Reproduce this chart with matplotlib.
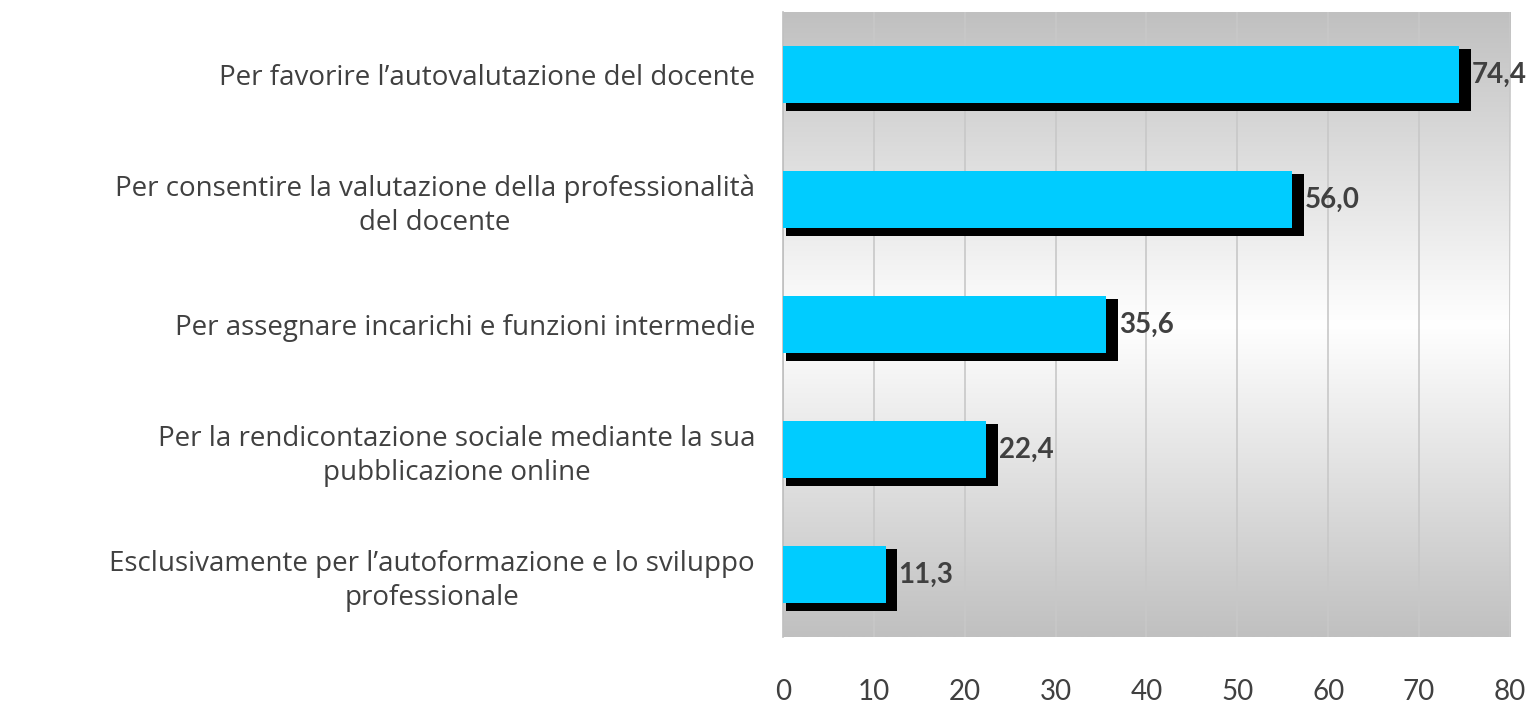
import numpy as np
import matplotlib.pyplot as plt
from matplotlib.colors import LinearSegmentedColormap

categories = [
    "Per favorire l\u2019autovalutazione del docente",
    "Per consentire la valutazione della professionalità\ndel docente",
    "Per assegnare incarichi e funzioni intermedie",
    "Per la rendicontazione sociale mediante la sua\npubblicazione online",
    "Esclusivamente per l\u2019autoformazione e lo sviluppo\nprofessionale",
]
values = [74.4, 56.0, 35.6, 22.4, 11.3]
x_ticks = [0, 10, 20, 30, 40, 50, 60, 70, 80]

text_color = "#404040"
plt.rcParams["font.family"] = ["Open Sans", "DejaVu Sans"]

fig = plt.figure(figsize=(15.32, 7.03), dpi=100)
ax = fig.add_axes([0.511, 0.094, 0.4746, 0.889])

# grey-white-grey background gradient
bg = LinearSegmentedColormap.from_list("bg", ["#c0c0c0", "#ffffff", "#c0c0c0"])
grad = np.linspace(0, 1, 256).reshape(-1, 1)
ax.imshow(grad, cmap=bg, aspect="auto", extent=[0, 1, 0, 1],
          transform=ax.transAxes, zorder=0)

y = np.arange(len(categories))
h = 0.46
# drop shadow behind each bar
ax.barh(y + 0.045, np.array(values) + 0.9, height=h + 0.04, left=0.4,
        color="black", zorder=2)
ax.barh(y, values, height=h, color="#00ccff", zorder=3)

for yi, v in zip(y, values):
    ax.annotate(f"{v:.1f}".replace(".", ","), (v, yi), xytext=(9, 0),
                textcoords="offset points", va="center", ha="left",
                fontsize=20, fontweight="bold", color=text_color,
                family=["Lato", "DejaVu Sans"], zorder=4)

ax.set_xlim(0, 80)
ax.set_ylim(len(categories) - 0.5, -0.5)
ax.set_xticks(x_ticks)
ax.set_xticklabels([str(t) for t in x_ticks], family=["Lato", "DejaVu Sans"])
ax.set_yticks(y)
ax.set_yticklabels(categories, multialignment="center", linespacing=1.3)
ax.tick_params(axis="x", length=0, pad=30, labelsize=20, labelcolor=text_color)
ax.tick_params(axis="y", length=0, pad=20, labelsize=20, labelcolor=text_color)

ax.grid(axis="x", color="#c8c8c8", linewidth=1.2, zorder=1)
ax.set_axisbelow(True)
for side in ["top", "right", "bottom"]:
    ax.spines[side].set_visible(False)
ax.spines["left"].set_color("#bfbfbf")
ax.spines["left"].set_linewidth(1.2)

fig.savefig("out.png", dpi=100)
